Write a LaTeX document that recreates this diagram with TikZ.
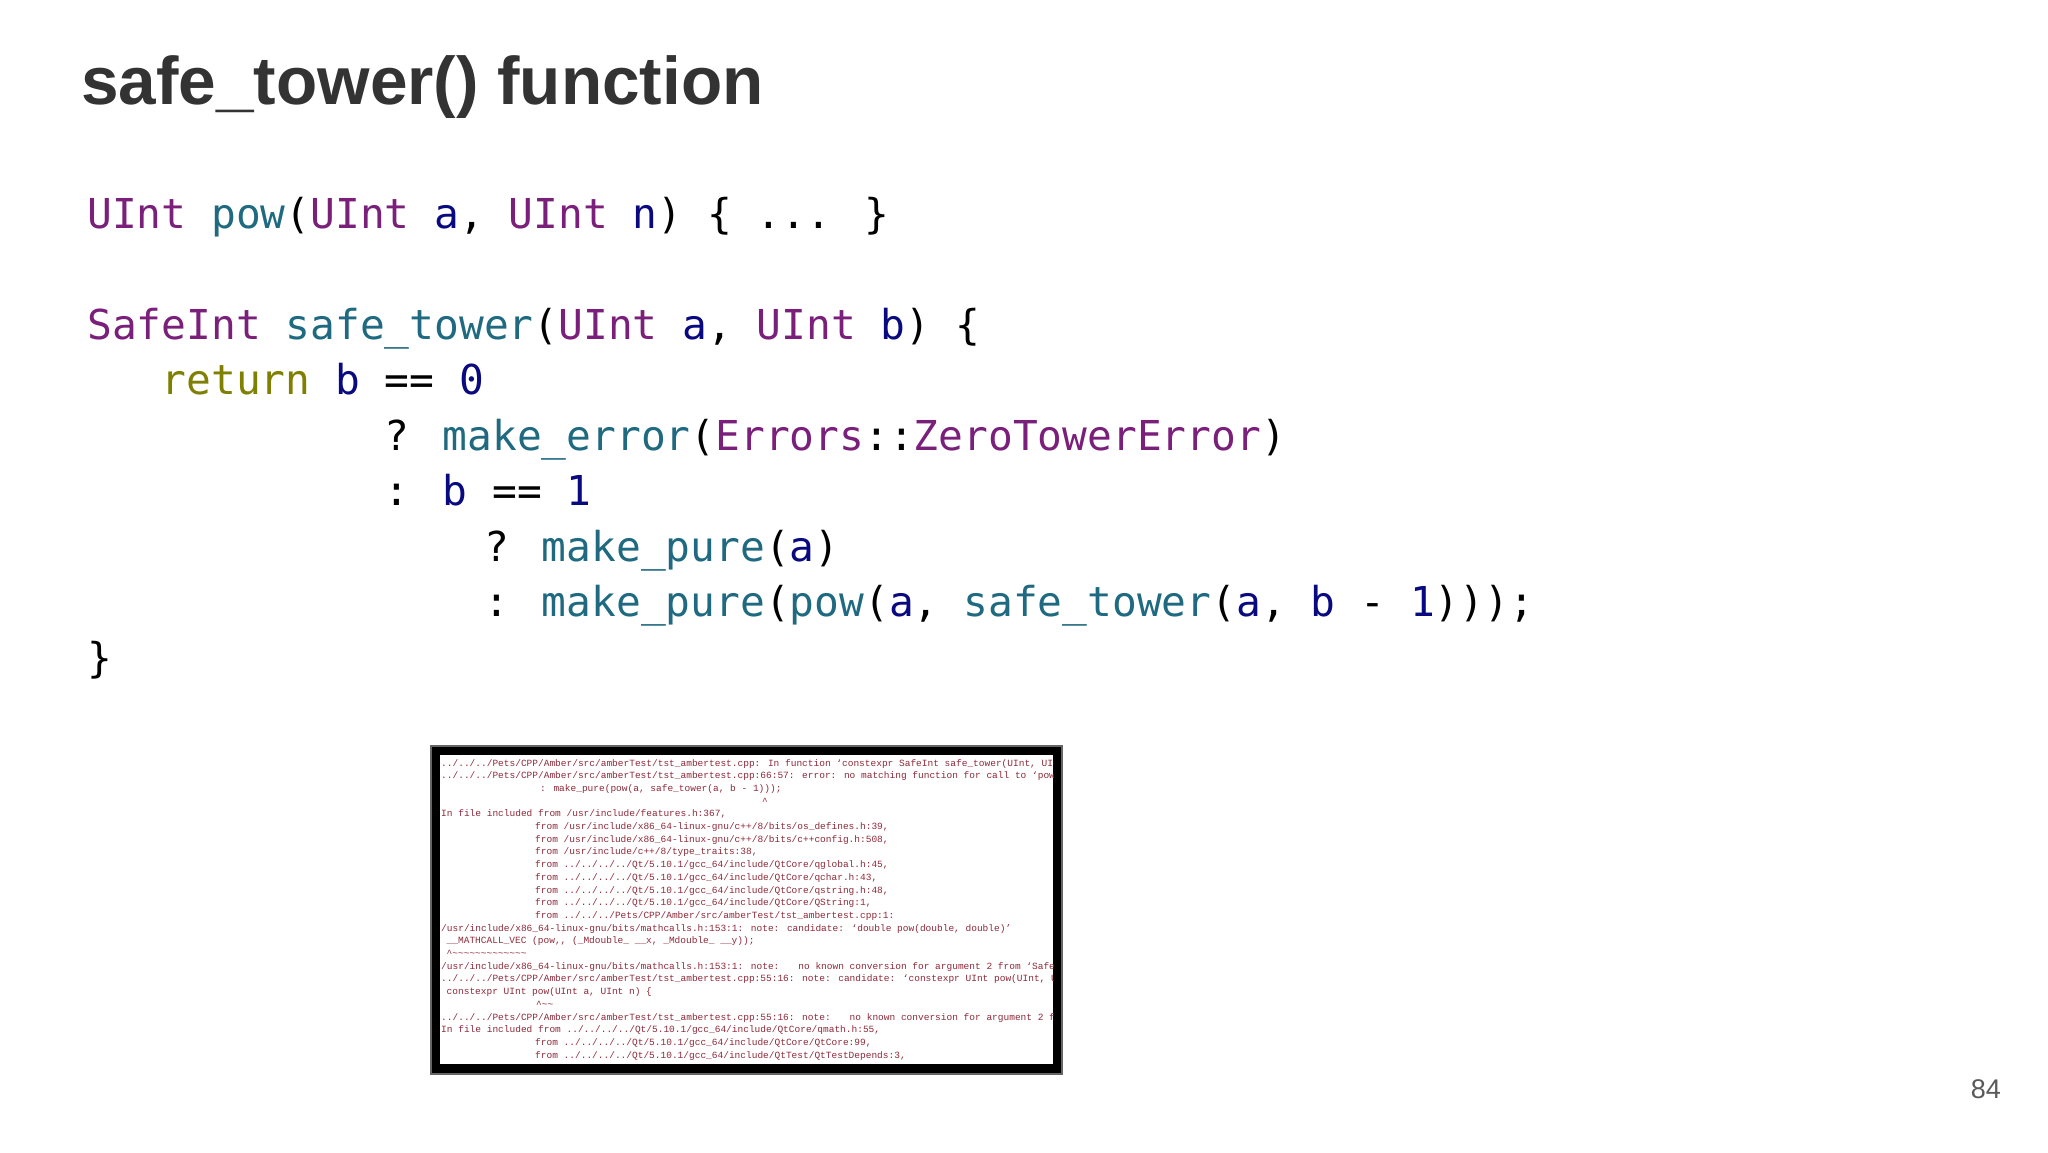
\documentclass[tikz,border=0pt]{standalone}
\usepackage{fontspec}
\setmainfont{Liberation Sans}
\newfontfamily\codefont{DejaVu Sans Mono}
\newfontfamily\termfont{Liberation Mono}
\definecolor{ctype}{HTML}{7A1F7A}
\definecolor{cfun}{HTML}{1F6A80}
\definecolor{ckw}{HTML}{7F7F00}
\definecolor{cvar}{HTML}{0A0A80}
\definecolor{cterm}{HTML}{8E2A3A}
\newcommand{\ty}[1]{\textcolor{ctype}{#1}}
\newcommand{\fn}[1]{\textcolor{cfun}{#1}}
\newcommand{\kw}[1]{\textcolor{ckw}{#1}}
\newcommand{\vr}[1]{\textcolor{cvar}{#1}}
\begin{document}
\begin{tikzpicture}[x=1pt,y=-1pt,
  code/.style={anchor=base west,inner sep=0pt,font=\codefont\fontsize{41.2}{50}\selectfont},
  term/.style={anchor=base west,inner sep=0pt,text=cterm,font=\termfont\fontsize{9.5}{11}\selectfont}]
\useasboundingbox (0,0) rectangle (2048,1152);
\fill[white] (0,0) rectangle (2048,1152);
\node[anchor=base west,inner sep=0pt,text=black!80,font=\bfseries\fontsize{67.5}{80}\selectfont] (title) at (81,104) {safe\_tower() function};
\def\cw{24.8}
\node[code] (l1) at (87,228.6) {\ty{UInt} \fn{pow}(\ty{UInt} \vr{a}, \ty{UInt} \vr{n}) \{ ... \}};
\node[code] (l2) at (87,339.6) {\ty{SafeInt} \fn{safe\_tower}(\ty{UInt} \vr{a}, \ty{UInt} \vr{b}) \{};
\node[code] (l3) at (87+3*\cw,394.4) {\kw{return} \vr{b} == \vr{0}};
\node[code] (l4) at (87+12*\cw,450.6) {? \fn{make\_error}(\ty{Errors}::\ty{ZeroTowerError})};
\node[code] (l5) at (87+12*\cw,505.4) {: \vr{b} == \vr{1}};
\node[code] (l6) at (87+16*\cw,561.6) {? \fn{make\_pure}(\vr{a})};
\node[code] (l7) at (87+16*\cw,616.4) {: \fn{make\_pure}(\fn{pow}(\vr{a}, \fn{safe\_tower}(\vr{a}, \vr{b} - \vr{1})));};
\node[code] (l8) at (87,672.6) {\}};
% terminal screenshot
\fill[black!60] (430,745) rectangle (1063,1075);
\fill[black] (432,747) rectangle (1061,1073);
\fill[white] (440,755) rectangle (1053,1064);
\begin{scope}
\clip (440,755) rectangle (1053,1064);
\def\tx{441}\def\ind{535}
\node[term] (t1) at (\tx,766) {../../../Pets/CPP/Amber/src/amberTest/tst\_ambertest.cpp: In function ‘constexpr SafeInt safe\_tower(UInt, UInt)’:};
\node[term] (t2) at (\tx,778.7) {../../../Pets/CPP/Amber/src/amberTest/tst\_ambertest.cpp:66:57: error: no matching function for call to ‘pow(UInt\&, SafeInt)’};
\node[term] (t3) at (540,791.4) {: make\_pure(pow(a, safe\_tower(a, b - 1)));};
\node[term] (t4) at (762,804.1) {\textasciicircum};
\node[term] (t5) at (\tx,816.8) {In file included from /usr/include/features.h:367,};
\node[term] (t6) at (\ind,829.5) {from /usr/include/x86\_64-linux-gnu/c++/8/bits/os\_defines.h:39,};
\node[term] (t7) at (\ind,842.2) {from /usr/include/x86\_64-linux-gnu/c++/8/bits/c++config.h:508,};
\node[term] (t8) at (\ind,854.9) {from /usr/include/c++/8/type\_traits:38,};
\node[term] (t9) at (\ind,867.6) {from ../../../../Qt/5.10.1/gcc\_64/include/QtCore/qglobal.h:45,};
\node[term] (t10) at (\ind,880.3) {from ../../../../Qt/5.10.1/gcc\_64/include/QtCore/qchar.h:43,};
\node[term] (t11) at (\ind,893.0) {from ../../../../Qt/5.10.1/gcc\_64/include/QtCore/qstring.h:48,};
\node[term] (t12) at (\ind,905.7) {from ../../../../Qt/5.10.1/gcc\_64/include/QtCore/QString:1,};
\node[term] (t13) at (\ind,918.4) {from ../../../Pets/CPP/Amber/src/amberTest/tst\_ambertest.cpp:1:};
\node[term] (t14) at (\tx,931.1) {/usr/include/x86\_64-linux-gnu/bits/mathcalls.h:153:1: note: candidate: ‘double pow(double, double)’};
\node[term] (t15) at (\tx+5.5,943.8) {\_\_MATHCALL\_VEC (pow,, (\_Mdouble\_ \_\_x, \_Mdouble\_ \_\_y));};
\node[term] (t16) at (\tx+5.5,956.5) {\textasciicircum\textasciitilde\textasciitilde\textasciitilde\textasciitilde\textasciitilde\textasciitilde\textasciitilde\textasciitilde\textasciitilde\textasciitilde\textasciitilde\textasciitilde\textasciitilde};
\node[term] (t17) at (\tx,969.2) {/usr/include/x86\_64-linux-gnu/bits/mathcalls.h:153:1: note: \ \ no known conversion for argument 2 from ‘SafeInt’ to ‘double’};
\node[term] (t18) at (\tx,981.9) {../../../Pets/CPP/Amber/src/amberTest/tst\_ambertest.cpp:55:16: note: candidate: ‘constexpr UInt pow(UInt, UInt)’};
\node[term] (t19) at (\tx+5.5,994.6) {constexpr UInt pow(UInt a, UInt n) \{};
\node[term] (t20) at (536,1007.3) {\textasciicircum\textasciitilde\textasciitilde};
\node[term] (t21) at (\tx,1020.0) {../../../Pets/CPP/Amber/src/amberTest/tst\_ambertest.cpp:55:16: note: \ \ no known conversion for argument 2 from ‘SafeInt’};
\node[term] (t22) at (\tx,1032.7) {In file included from ../../../../Qt/5.10.1/gcc\_64/include/QtCore/qmath.h:55,};
\node[term] (t23) at (\ind,1045.4) {from ../../../../Qt/5.10.1/gcc\_64/include/QtCore/QtCore:99,};
\node[term] (t24) at (\ind,1058.1) {from ../../../../Qt/5.10.1/gcc\_64/include/QtTest/QtTestDepends:3,};
\end{scope}
\node[anchor=base east,inner sep=0pt,text=black!65,font=\fontsize{27}{30}\selectfont] (page) at (2001,1098) {84};
\end{tikzpicture}
\end{document}
